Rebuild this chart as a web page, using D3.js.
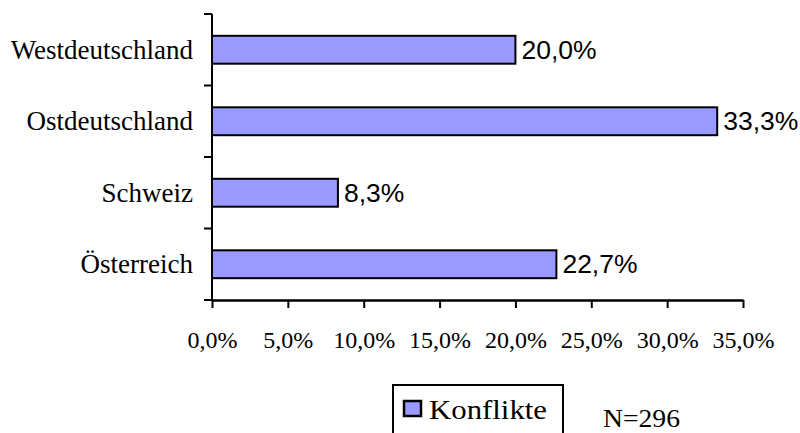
<!DOCTYPE html>
<html>
<head>
<meta charset="utf-8">
<script src="https://cdn.jsdelivr.net/npm/d3@7"></script>
<style>
  body { margin: 0; background: #fff; }
  svg { display: block; }
</style>
</head>
<body>
<svg id="chart"></svg>
<script>
const categories = ["Westdeutschland", "Ostdeutschland", "Schweiz", "Österreich"];
const values = [20.0, 33.3, 8.3, 22.7];
const xTicks = [0, 5, 10, 15, 20, 25, 30, 35];
const seriesName = "Konflikte";
const note = "N=296";

const width = 800, height = 433;
const serif = "'Liberation Serif', 'Times New Roman', serif";
const sans = "'Liberation Sans', Arial, sans-serif";

const svg = d3.select("#chart").attr("width", width).attr("height", height);

const fmt = v => v.toFixed(1).replace(".", ",") + "%";

const x = d3.scaleLinear().domain([0, 35]).range([212, 743]);
const y = d3.scaleBand().domain(categories).range([14, 300]).paddingInner(0.61).paddingOuter(0.305);

// bars
svg.append("g").selectAll("rect")
    .data(values)
    .enter()
    .append("rect")
    .attr("x", x(0))
    .attr("y", (d, i) => y(categories[i]))
    .attr("width", d => x(d) - x(0))
    .attr("height", y.bandwidth())
    .style("fill", "#9999ff")
    .style("stroke", "#000")
    .style("stroke-width", 2);

// value labels
svg.append("g").selectAll("text")
    .data(values)
    .enter()
    .append("text")
    .attr("x", d => x(d) + 6)
    .attr("y", (d, i) => y(categories[i]) + y.bandwidth() / 2 + 9)
    .style("font-family", sans)
    .style("font-size", "26.5px")
    .text(fmt);

// y axis
const yAxis = svg.append("g");
yAxis.append("line")
    .attr("x1", x(0)).attr("x2", x(0))
    .attr("y1", 14).attr("y2", 300)
    .style("stroke", "#000").style("stroke-width", 2);
yAxis.selectAll("line.tick")
    .data(d3.range(categories.length + 1).map(i => 14 + i * y.step()))
    .enter()
    .append("line")
    .attr("class", "tick")
    .attr("x1", x(0) - 8).attr("x2", x(0))
    .attr("y1", d => d).attr("y2", d => d)
    .style("stroke", "#000").style("stroke-width", 2);
yAxis.selectAll("text")
    .data(categories)
    .enter()
    .append("text")
    .attr("x", 193)
    .attr("y", d => y(d) + y.bandwidth() / 2 + 9)
    .attr("text-anchor", "end")
    .style("font-family", serif)
    .style("font-size", "27px")
    .text(d => d);

// x axis
const xAxis = svg.append("g").attr("transform", "translate(0,300)")
    .call(d3.axisBottom(x).tickValues(xTicks).tickSize(8).tickSizeOuter(0).tickFormat(d => fmt(d)));
xAxis.select(".domain").style("stroke-width", 2.5);
xAxis.selectAll(".tick line").style("stroke-width", 2);
xAxis.selectAll(".tick text")
    .attr("dy", null)
    .attr("y", 48)
    .style("font-family", serif)
    .style("font-size", "24px");

// legend
const legend = svg.append("g");
legend.append("rect")
    .attr("x", 393).attr("y", 385)
    .attr("width", 170).attr("height", 60)
    .style("fill", "#fff").style("stroke", "#000").style("stroke-width", 2);
legend.append("rect")
    .attr("x", 404).attr("y", 401)
    .attr("width", 17).attr("height", 15)
    .style("fill", "#9999ff").style("stroke", "#000").style("stroke-width", 2.5);
legend.append("text")
    .attr("x", 429).attr("y", 419)
    .attr("textLength", 118)
    .attr("lengthAdjust", "spacingAndGlyphs")
    .style("font-family", serif)
    .style("font-size", "27px")
    .text(seriesName);

svg.append("text")
    .attr("x", 603).attr("y", 427)
    .attr("textLength", 77)
    .attr("lengthAdjust", "spacingAndGlyphs")
    .style("font-family", serif)
    .style("font-size", "26px")
    .text(note);
</script>
</body>
</html>
